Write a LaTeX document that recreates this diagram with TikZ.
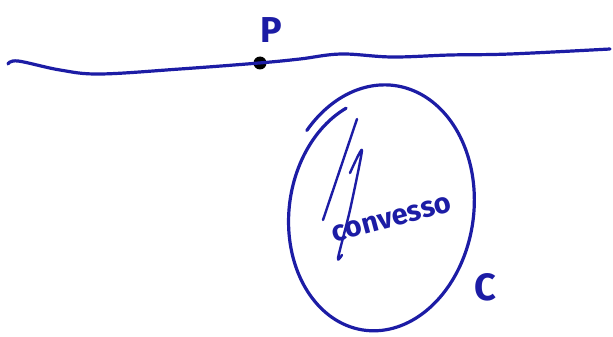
\documentclass[tikz,border=0pt]{standalone}
\usepackage{fontspec}
\setmainfont{Fira Sans}
\definecolor{pen}{RGB}{28,28,165}
\begin{document}
\begin{tikzpicture}[x=1pt,y=-1pt,
  penline/.style={draw=pen,line width=3.2pt,line cap=round,line join=round},
  handtext/.style={text=pen,inner sep=0pt,font=\bfseries}]
\useasboundingbox[fill=white] (0,0) rectangle (613,337);
% horizontal line
\coordinate (L) at (8,64);
\coordinate (R) at (610,49);
\node[circle,fill=black,minimum width=11pt,minimum height=13pt,inner sep=0pt] (P) at (260,63) {};
\draw[penline] plot[smooth,tension=0.6] coordinates {(8,64) (18,61) (60,70) (100,74) (180,69) (259,63) (300,59) (341,54) (392,57) (450,55) (510,54) (610,49)};
% label P
\node[handtext,font=\bfseries\fontsize{36}{36}\selectfont] (lp) at (271,30) {P};
% oval C
\draw[penline] plot[domain=244:-141,samples=160,smooth,variable=\t]
  ({379 + (0.93+0.11*(244-\t)/385)*(95*cos(\t) - 7*sin(\t))},
   {211 + (0.93+0.11*(244-\t)/385)*123*sin(\t)});
% scribbles inside
\draw[penline,line width=2.4pt] (357,119) -- (323,220);
\draw[penline,line width=2.4pt] plot[smooth,tension=0.4] coordinates {(350,173) (362,150) (350,210) (338,258) (342,255)};
% text
\node[handtext,font=\bfseries\fontsize{29}{29}\selectfont,rotate=15] (tx) at (392,219) {convesso};
% label C
\node[handtext,font=\bfseries\fontsize{38}{38}\selectfont] (lc) at (485,287) {C};
\end{tikzpicture}
\end{document}
